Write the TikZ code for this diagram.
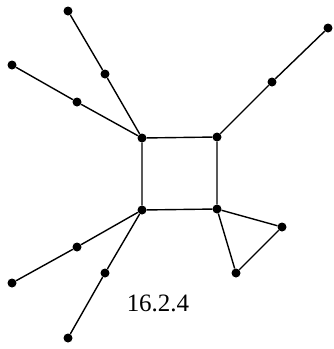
\documentclass[tikz,border=0pt]{standalone}
\usepackage{fontspec}
\setmainfont{Liberation Serif}
\usetikzlibrary{positioning}

\begin{document}
\begin{tikzpicture}[
    x=1pt, y=-1pt,
    vertex/.style={circle, fill=black, inner sep=0pt, minimum size=9pt},
    edge/.style={line width=1.4pt, black},
    caption/.style={font=\fontsize{25}{28}\selectfont}
  ]
    \useasboundingbox (0,0) rectangle (333,349);
    % square
    \node[vertex] (tl) at (142,138) {};
    \node[vertex] (tr) at (217,137) {};
    \node[vertex] (bl) at (142,210) {};
    \node[vertex] (br) at (217,209) {};
    % upper branches
    \node[vertex] (a1) at (105,74) {};
    \node[vertex] (a2) at (68,11) {};
    \node[vertex] (b1) at (77,102) {};
    \node[vertex] (b2) at (12,65) {};
    \node[vertex] (c1) at (272,82) {};
    \node[vertex] (c2) at (328,28) {};
    % lower branches
    \node[vertex] (d1) at (77,247) {};
    \node[vertex] (d2) at (12,283) {};
    \node[vertex] (e1) at (105,273) {};
    \node[vertex] (e2) at (68,338) {};
    % triangle
    \node[vertex] (t1) at (282,227) {};
    \node[vertex] (t2) at (236,273) {};
    \node[caption] (lbl) at (158,303) {16.2.4};
    \draw[edge] (tl) -- (tr) -- (br) -- (bl) -- (tl);
    \draw[edge] (tl) -- (a1) -- (a2);
    \draw[edge] (tl) -- (b1) -- (b2);
    \draw[edge] (tr) -- (c1) -- (c2);
    \draw[edge] (bl) -- (d1) -- (d2);
    \draw[edge] (bl) -- (e1) -- (e2);
    \draw[edge] (br) -- (t1) -- (t2) -- (br);
  \end{tikzpicture}
\end{document}
